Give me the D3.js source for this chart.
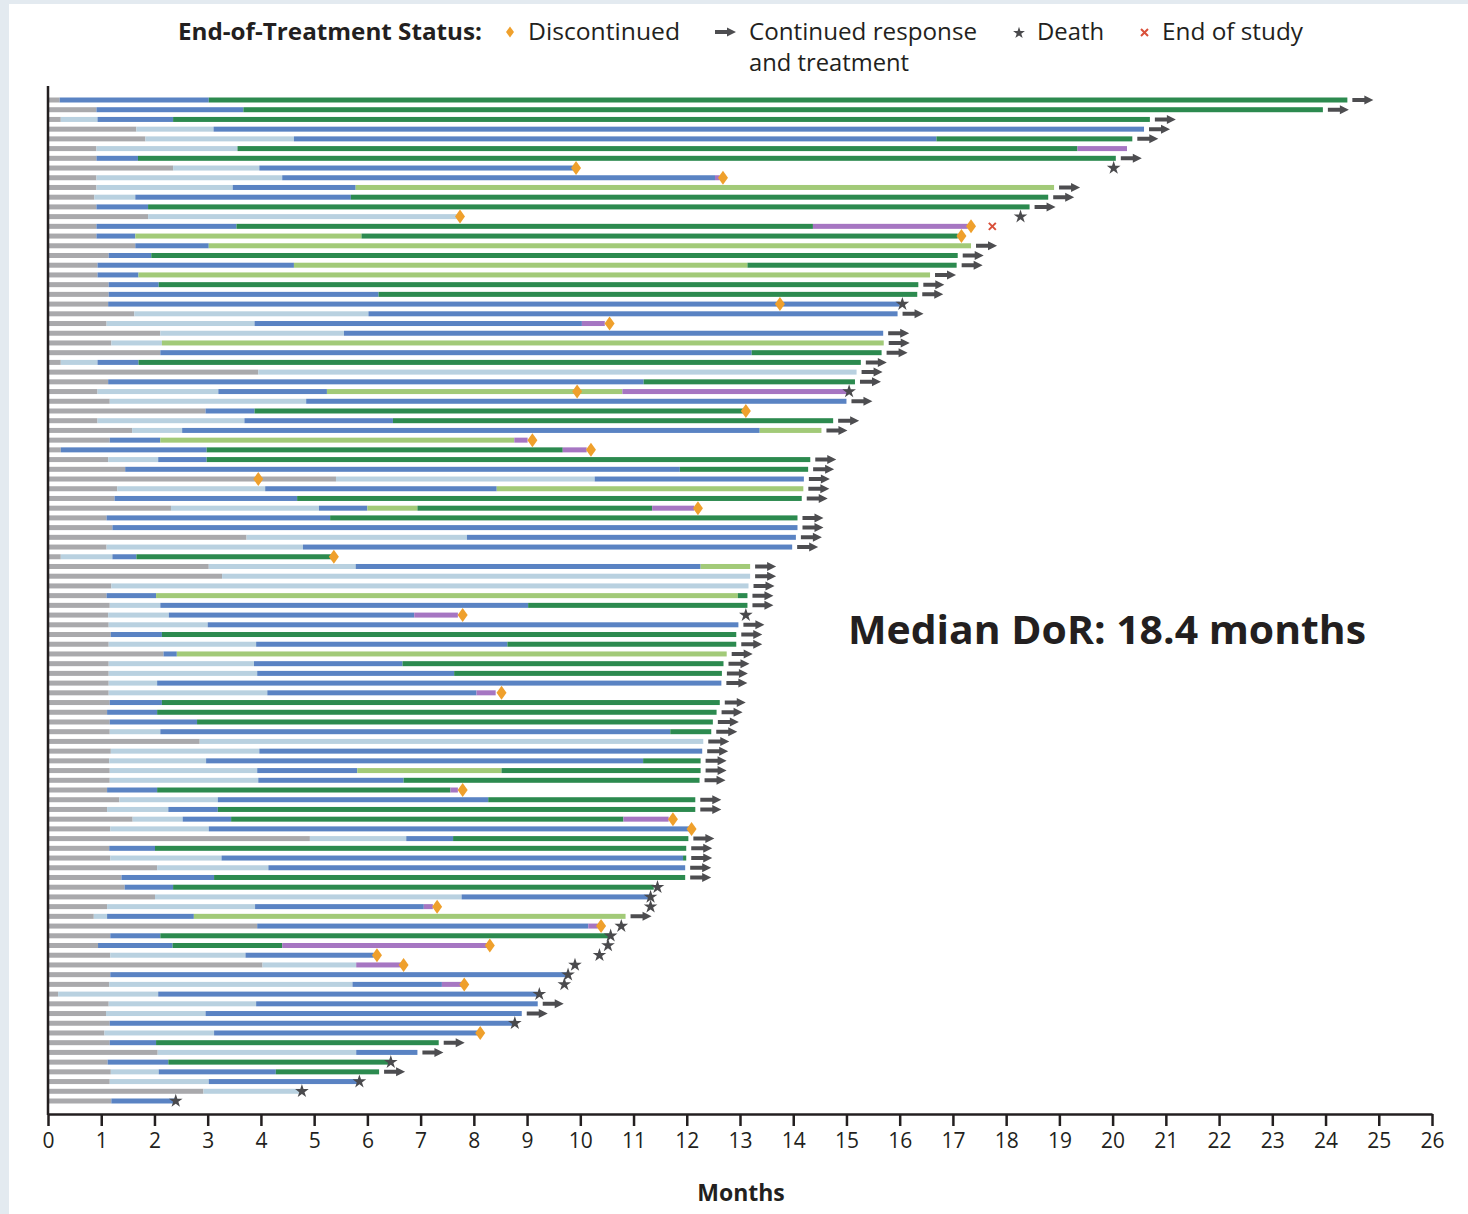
<!DOCTYPE html>
<html>
<head>
<meta charset="utf-8">
<script src="https://cdn.jsdelivr.net/npm/d3@7"></script>
<style>
  html, body { margin: 0; padding: 0; background: #e3eaf0; }
  #chart { position: absolute; left: 9px; top: 4px; background: #fff; }
  text { font-family: "Open Sans", "Liberation Sans", sans-serif; fill: #231f20; }
</style>
</head>
<body>
<div id="chart"></div>
<script>
// one string per patient, top to bottom: "<phase><end month>" pieces
// a = grey, l = light blue, b = blue, d = dark green, g = light green, p = purple
const swimLanes = [
  "a0.22 b3.02 d24.41", "a0.91 b3.67 d23.95", "a0.24 l0.93 b2.35 d20.70", "a1.66 l3.11 b20.59",
  "a1.83 l4.62 b16.69 d20.37", "a0.91 l3.56 d19.34 p20.27", "a0.91 b1.69 d20.06", "a2.35 l3.97 b9.90",
  "a0.91 l4.40 b12.53 p12.62", "a0.91 l3.47 b5.78 g18.90", "a0.87 l1.64 b5.69 d18.79", "a0.91 b1.88 d18.44",
  "a1.88 l7.74", "a0.91 b3.54 d14.37 p17.28", "a0.91 b1.64 g5.89 d17.09", "a1.64 b3.02 g17.34",
  "a1.14 b1.94 d17.09", "a0.93 b4.62 g13.14 d17.07", "a0.93 b1.70 g16.57", "a1.14 b2.08 d16.35",
  "a1.14 b6.21 d16.33", "a1.13 b16.00", "a1.62 l6.02 b15.96", "a1.10 l3.88 b10.03 p10.46",
  "a2.11 l5.56 b15.69", "a1.19 l2.14 g15.70", "a2.11 b13.22 d15.66", "a0.24 l0.93 b1.70 d15.27",
  "a3.95 l15.19", "a1.13 b11.19 d15.16", "a0.93 l3.20 b5.24 g10.79 p15.04", "a1.16 l4.85 b15.00",
  "a2.96 b3.88 d13.09", "a0.93 l3.69 b6.48 d14.75", "a1.58 l2.52 b13.37 g14.53", "a1.16 b2.11 g8.76 p9.01",
  "a0.24 b2.98 d9.67 p10.12", "a1.13 l2.07 b2.98 d14.32", "a1.45 b11.87 d14.28", "a5.41 l10.27 b14.20",
  "a1.30 l4.08 b8.43 g14.19", "a1.25 b4.68 d14.16", "a2.31 l5.09 b6.00 g6.94 d11.35 p12.14", "a1.10 b5.30 d14.08",
  "a1.21 b14.08", "a3.73 l7.87 b14.05", "a1.10 l4.79 b13.98", "a0.24 l1.21 b1.66 d5.33",
  "a3.02 l5.78 b12.26 g13.19", "a3.27 l13.19", "a1.19 l13.16", "a1.10 b2.03 g12.96 d13.14",
  "a1.16 l2.11 b9.02 d13.14", "a1.13 l2.27 b6.88 p7.70", "a1.14 l3.00 b12.97", "a1.18 b2.14 d12.93",
  "a1.14 l3.91 b8.63 d12.93", "a2.17 b2.42 g12.75", "a1.14 l3.87 b6.66 d12.69", "a1.14 l3.93 b7.63 d12.66",
  "a1.14 l2.05 b12.65", "a1.14 l4.12 b8.05 p8.41", "a1.16 b2.14 d12.62", "a1.11 b2.05 d12.56",
  "a1.16 b2.80 d12.49", "a1.16 l2.11 b11.69 d12.46", "a2.85 l12.31", "a1.18 l3.97 b12.29",
  "a1.15 l2.97 b11.18 d12.26", "a1.16 l3.93 b5.81 g8.52 d12.26", "a1.16 l3.95 b6.68 d12.24", "a1.11 b2.05 d7.56 p7.70",
  "a1.34 l3.19 b8.27 d12.16", "a1.11 l2.26 b3.19 d12.16", "a1.59 l2.53 b3.44 d10.81 p11.66", "a1.17 l3.02 b12.05",
  "a4.92 l6.73 b7.61 d12.03", "a1.15 b2.01 d11.99", "a1.17 l3.26 b11.93 d11.99", "a2.05 l4.14 b11.97",
  "a1.38 b3.12 d11.97", "a1.44 b2.35 d11.38", "a2.01 l7.77 b11.30", "a1.11 l3.89 b7.06 p7.23",
  "a0.86 l1.11 b2.74 g10.85", "a3.93 b10.15 p10.33", "a1.17 b2.11 d10.54", "a0.94 b2.34 d4.40 p8.28",
  "a1.17 l3.71 b6.12", "a4.03 l5.79 p6.64", "a1.17 b9.75", "a1.15 l5.72 b7.40 p7.78",
  "a0.19 l2.07 b9.20", "a1.14 l3.91 b9.20", "a1.09 l2.96 b8.90", "a1.16 b8.77",
  "a1.06 l3.12 b8.07", "a1.16 b2.03 d7.34", "a2.06 l5.79 b6.94", "a1.12 b2.26 d6.42",
  "a1.18 l2.08 b4.28 d6.22", "a1.16 l3.02 b5.85", "a2.92 l4.77", "a1.19 b2.39"
];

// rows still on treatment (arrow after the bar)
const continuing = [0,1,2,3,4,6,9,10,11,15,16,17,18,19,20,22,24,25,26,27,28,29,31,33,34,37,38,39,40,41,
  43,44,45,46,48,49,50,51,52,54,55,56,57,58,59,60,62,63,64,65,66,67,68,69,70,72,73,76,77,78,79,80,84,93,94,97,98,100];

// [row, month]
const discontinued = [[7,9.92],[8,12.68],[12,7.74],[13,17.34],[14,17.16],[21,13.75],[23,10.55],[30,9.94],
  [32,13.11],[35,9.10],[36,10.20],[39,3.95],[42,12.21],[47,5.37],[53,7.79],[61,8.52],[71,7.79],[74,11.74],
  [75,12.09],[83,7.31],[85,10.39],[87,8.30],[88,6.18],[89,6.68],[91,7.82],[96,8.12]];
const deaths = [[7,20.02],[12,18.27],[21,16.05],[30,15.05],[53,13.11],[81,11.45],[82,11.32],[83,11.32],
  [85,10.77],[86,10.57],[87,10.52],[88,10.36],[89,9.90],[90,9.77],[91,9.70],[92,9.23],[95,8.77],[99,6.44],
  [101,5.85],[102,4.77],[103,2.40]];
const endOfStudy = [[13,17.74]];

const monthTicks = d3.range(0, 27);
const legendItems = ["Discontinued", "Continued response", "Death", "End of study"];
const medianLabel = "Median DoR: 18.4 months";

const phaseColor = { a: "#a9a9ac", l: "#b9d1e0", b: "#5a83c3", d: "#2c8a4f", g: "#a2ca78", p: "#a676c2" };

const W = 1459, H = 1210; // white panel inside the frame
const svg = d3.select("#chart").append("svg").attr("width", W).attr("height", H);
const g = svg.append("g").attr("transform", "translate(-9,-4)"); // work in page coords

const x = d3.scaleLinear().domain([0, 26]).range([48, 1432]);
const y = d3.scalePoint().domain(d3.range(swimLanes.length)).range([100, 1101]);
const barH = 5;

// parse lanes into segments
const segs = [];
swimLanes.forEach((s, i) => {
  let start = 0;
  s.split(" ").forEach(p => {
    const end = +p.slice(1);
    segs.push({ row: i, code: p[0], start, end });
    start = end;
  });
});
const laneEnd = swimLanes.map(s => +s.split(" ").pop().slice(1));

g.selectAll("rect.seg")
  .data(segs)
  .enter()
  .append("rect")
  .attr("class", "seg")
  .attr("x", d => x(d.start))
  .attr("y", d => y(d.row) - barH / 2)
  .attr("width", d => Math.max(0, x(d.end) - x(d.start)))
  .attr("height", barH)
  .attr("fill", d => phaseColor[d.code]);

// arrow glyph
function arrowPath(x0, yc) {
  return `M${x0},${yc - 2} L${x0 + 12},${yc - 2} L${x0 + 12},${yc - 4.5} L${x0 + 21},${yc} L${x0 + 12},${yc + 4.5} L${x0 + 12},${yc + 2} L${x0},${yc + 2} Z`;
}
function diamondPath(cx, cy) {
  return `M${cx},${cy - 7} L${cx + 5},${cy} L${cx},${cy + 7} L${cx - 5},${cy} Z`;
}
const star = d3.symbol().type(d3.symbolStar).size(58);

g.selectAll("path.arrow")
  .data(continuing)
  .enter()
  .append("path")
  .attr("class", "arrow")
  .attr("d", r => arrowPath(x(laneEnd[r]) + 5, y(r)))
  .attr("fill", "#4d4d50");

g.selectAll("path.disc")
  .data(discontinued)
  .enter()
  .append("path")
  .attr("class", "disc")
  .attr("d", d => diamondPath(x(d[1]), y(d[0])))
  .attr("fill", "#efa02c");

g.selectAll("path.death")
  .data(deaths)
  .enter()
  .append("path")
  .attr("class", "death")
  .attr("transform", d => `translate(${x(d[1])},${y(d[0])})`)
  .attr("d", star)
  .attr("fill", "#4a4a4d");

g.selectAll("path.eos")
  .data(endOfStudy)
  .enter()
  .append("path")
  .attr("class", "eos")
  .attr("d", d => {
    const cx = x(d[1]), cy = y(d[0]), s = 3.5;
    return `M${cx - s},${cy - s}L${cx + s},${cy + s}M${cx - s},${cy + s}L${cx + s},${cy - s}`;
  })
  .attr("stroke", "#d9503a")
  .attr("stroke-width", 2)
  .attr("fill", "none");

// axes
const xAxis = g.append("g")
  .attr("transform", "translate(0,1114)")
  .call(d3.axisBottom(x).tickValues(monthTicks).tickFormat(d3.format("d")).tickSize(12).tickSizeOuter(0).tickPadding(7));
xAxis.select(".domain").attr("stroke", "#231f20").attr("stroke-width", 2.5);
xAxis.selectAll(".tick line").attr("stroke", "#231f20").attr("stroke-width", 2.5);
xAxis.selectAll(".tick text")
  .style("font-family", "'Open Sans', sans-serif")
  .style("font-size", "21px")
  .attr("fill", "#231f20");

g.append("line")
  .attr("x1", x(0)).attr("x2", x(0))
  .attr("y1", 86).attr("y2", 1115)
  .attr("stroke", "#231f20")
  .attr("stroke-width", 2.5);

g.append("text")
  .attr("x", 741)
  .attr("y", 1201)
  .attr("text-anchor", "middle")
  .style("font-size", "23px")
  .style("font-weight", "bold")
  .text("Months");

// median label
g.append("text")
  .attr("x", 848)
  .attr("y", 644)
  .attr("textLength", 518)
  .attr("lengthAdjust", "spacingAndGlyphs")
  .style("font-family", "'Open Sans', sans-serif")
  .style("font-size", "40px")
  .style("font-weight", "bold")
  .attr("fill", "#000")
  .text(medianLabel);

// legend
const lg = g.append("g").style("font-size", "23px");
lg.append("text").attr("x", 178).attr("y", 40).attr("textLength", 304)
  .attr("lengthAdjust", "spacingAndGlyphs")
  .style("font-weight", "bold").text("End-of-Treatment Status:");
lg.append("path").attr("d", diamondPath(510, 32)).attr("fill", "#efa02c").attr("transform", "translate(510,32) scale(0.8) translate(-510,-32)");
lg.append("text").attr("x", 528).attr("y", 40).attr("textLength", 152).attr("lengthAdjust", "spacingAndGlyphs").text(legendItems[0]);
lg.append("path").attr("d", arrowPath(715, 32)).attr("fill", "#4d4d50");
lg.append("text").attr("x", 749).attr("y", 40).attr("textLength", 228).attr("lengthAdjust", "spacingAndGlyphs").text(legendItems[1]);
lg.append("text").attr("x", 749).attr("y", 71).attr("textLength", 160).attr("lengthAdjust", "spacingAndGlyphs").text("and treatment");
lg.append("path").attr("d", d3.symbol().type(d3.symbolStar).size(44)).attr("transform", "translate(1019,33)").attr("fill", "#4a4a4d");
lg.append("text").attr("x", 1037).attr("y", 40).attr("textLength", 67).attr("lengthAdjust", "spacingAndGlyphs").text(legendItems[2]);
lg.append("path")
  .attr("d", "M1141,29L1148,36M1141,36L1148,29")
  .attr("stroke", "#d9503a").attr("stroke-width", 2);
lg.append("text").attr("x", 1162).attr("y", 40).attr("textLength", 141).attr("lengthAdjust", "spacingAndGlyphs").text(legendItems[3]);
</script>
</body>
</html>
